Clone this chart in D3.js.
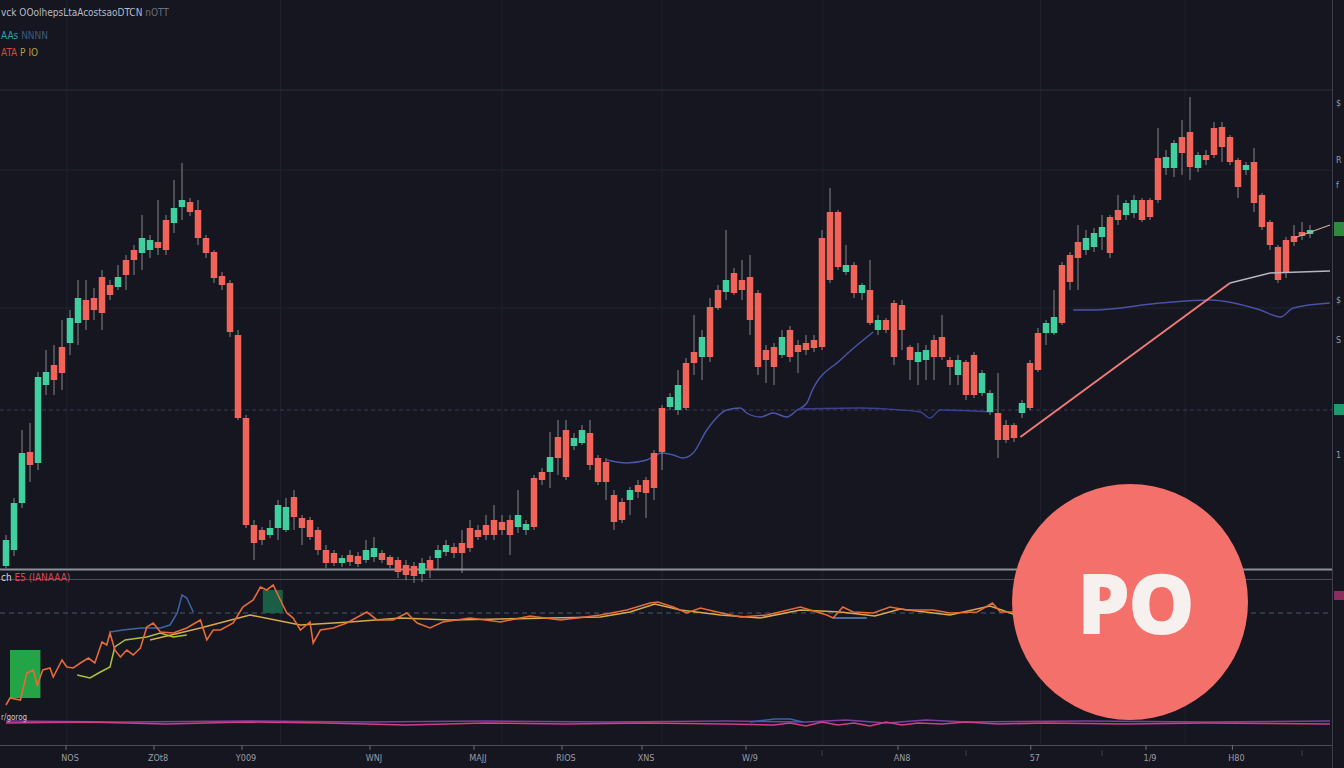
<!DOCTYPE html>
<html>
<head>
<meta charset="utf-8">
<script src="https://cdn.jsdelivr.net/npm/d3@7"></script>
<style>
  body { margin: 0; background: #15161f; overflow: hidden; }
  svg { display: block; }
</style>
</head>
<body>
<svg id="chart" width="1344" height="768"></svg>
<script>
// ---- price candles (one per bar) ----
var opens = [1009,1025,1072,1123,1112,1190,1210,1228,1232,1252,
  1275,1277,1298,1290,1288,1315,1325,1322,1325,1333,
  1355,1352,1368,1373,1365,1337,1323,1299,1292,1240,
  1157,1050,1045,1040,1047,1045,1078,1057,1055,1045,
  1025,1022,1012,1020,1019,1015,1018,1022,1018,1015,
  1010,1009,1001,1015,1017,1023,1028,1032,1047,1045,
  1050,1055,1053,1055,1048,1045,1097,1103,1103,1138,
  1145,1129,1132,1142,1117,1113,1080,1073,1075,1090,
  1095,1122,1167,1168,1165,1212,1223,1218,1268,1285,
  1283,1302,1295,1298,1282,1225,1228,1220,1245,1230,
  1232,1235,1337,1363,1363,1303,1310,1282,1285,1245,
  1255,1272,1270,1228,1213,1215,1235,1238,1215,1200,
  1213,1220,1182,1163,1162,1150,1150,1162,1212,1242,
  1242,1242,1310,1320,1333,1325,1328,1338,1358,1365,
  1360,1362,1375,1375,1417,1407,1407,1438,1443,1407,
  1420,1447,1448,1438,1415,1405,1413,1380,1353,1328,
  1335,1339,1343,1341];
var highs = [1040,1077,1145,1152,1203,1225,1230,1255,1265,1295,
  1295,1287,1305,1295,1310,1320,1330,1360,1340,1375,
  1360,1395,1412,1377,1375,1340,1325,1303,1295,1245,
  1160,1055,1048,1055,1075,1077,1085,1060,1058,1048,
  1030,1025,1020,1025,1023,1035,1038,1025,1020,1018,
  1015,1013,1017,1019,1030,1035,1032,1045,1055,1050,
  1060,1070,1060,1060,1085,1055,1100,1107,1143,1155,
  1155,1142,1150,1155,1120,1117,1085,1077,1088,1095,
  1098,1125,1170,1182,1205,1217,1260,1245,1277,1290,
  1345,1307,1315,1320,1285,1230,1232,1245,1249,1235,
  1240,1240,1345,1387,1365,1330,1313,1292,1315,1260,
  1257,1275,1275,1230,1232,1230,1240,1260,1218,1220,
  1215,1223,1205,1185,1202,1155,1152,1175,1215,1247,
  1255,1285,1313,1323,1350,1345,1347,1360,1360,1380,
  1375,1380,1377,1377,1447,1425,1435,1455,1478,1423,
  1425,1453,1453,1440,1417,1413,1427,1382,1355,1330,
  1338,1350,1353,1350];
var lows = [1007,1019,1067,1093,1105,1180,1180,1185,1220,1230,
  1245,1255,1245,1275,1285,1285,1300,1305,1317,1320,
  1320,1342,1355,1359,1330,1317,1292,1285,1238,1155,
  1047,1015,1030,1037,1035,1043,1045,1030,1035,1020,
  1007,1009,1008,1009,1008,1012,1013,1012,1007,997,
  995,992,993,997,1005,1019,1017,1002,1023,1035,
  1035,1035,1040,1020,1042,1040,1045,1090,1087,1100,
  1095,1125,1130,1105,1090,1075,1045,1052,1060,1077,
  1057,1075,1105,1165,1160,1165,1200,1195,1213,1265,
  1275,1280,1275,1240,1200,1192,1190,1217,1213,1202,
  1220,1223,1225,1292,1305,1300,1277,1275,1250,1240,
  1242,1210,1225,1195,1190,1195,1195,1215,1190,1190,
  1175,1177,1179,1160,1117,1132,1133,1157,1165,1203,
  1230,1240,1250,1285,1285,1320,1323,1325,1317,1350,
  1355,1357,1353,1355,1372,1400,1398,1400,1395,1403,
  1410,1417,1413,1410,1377,1400,1363,1345,1325,1292,
  1297,1329,1335,1337];
var closes = [1035,1072,1122,1110,1198,1203,1195,1202,1257,1277,
  1255,1265,1262,1280,1298,1300,1315,1337,1335,1327,
  1325,1367,1375,1363,1337,1322,1297,1290,1243,1157,
  1050,1032,1035,1047,1070,1068,1058,1047,1038,1025,
  1012,1012,1017,1013,1011,1025,1027,1015,1010,1003,
  1000,999,1012,1005,1025,1030,1022,1022,1027,1038,
  1040,1040,1045,1040,1060,1051,1048,1095,1118,1117,
  1098,1137,1145,1110,1093,1093,1053,1055,1085,1083,
  1082,1087,1123,1178,1190,1167,1212,1238,1218,1267,
  1295,1282,1285,1255,1208,1215,1208,1238,1218,1223,
  1225,1227,1228,1295,1308,1310,1282,1290,1252,1255,
  1245,1218,1245,1215,1223,1225,1218,1218,1208,1215,
  1180,1180,1202,1182,1135,1135,1137,1172,1167,1205,
  1252,1258,1252,1293,1317,1337,1342,1348,1322,1355,
  1372,1375,1355,1358,1375,1418,1432,1422,1408,1420,
  1415,1420,1428,1413,1388,1410,1372,1348,1330,1295,
  1303,1333,1339,1345];

// ---- overlay lines on the price pane: [bar, price] ----
var maBlue = [[75.1,1115],[77.6,1112],[80.1,1115],[82,1122],[83.4,1120],[84.6,1117],[85.9,1122],
  [87.6,1145],[90.1,1165],[91.8,1167],[92.6,1162],[94.3,1158],[95.9,1162],[97.6,1158],[98.9,1165],
  [100.1,1172],[100.8,1185],[104.3,1215],[108.4,1243]];
var maBlueLow = [[99,1166],[106.8,1167],[111.8,1165],[114.3,1163],[115.5,1157],[116.8,1165],[123.4,1163]];
var maBlueRight = [[133.4,1265],[135.9,1265],[144.3,1272],[150.5,1275],[156.8,1265],[159.3,1258],[160.9,1267],[165.5,1272]];
var trendRed = [[126.8,1138],[153,1292]];
var trendGrey = [[153,1292],[158,1302],[165.5,1304]];
var tailLine = [[161,1337],[165.5,1350]];

// ---- grid / axis ----
var gridPrices = [1485, 1405, 1267];
var dashedPrice = 1165;
var gridBars = [7.6, 34.3, 62, 82, 102.1, 129.3, 147.4];
var tickBars = [8, 19, 30, 46, 59, 70, 80, 93, 112, 128.6, 143, 153.8];
var tickLabels = ["NOS", "ZOt8", "Y009", "WNJ", "MAJJ", "RIOS", "XNS", "W/9", "AN8", "57", "1/9", "H80"];
var minorTickBars = [102, 120, 137, 162];
var axisPrices = [1472, 1415, 1390, 1275, 1235, 1120];
var axisLabels = ["$", "R", "f", "$", "S", "1"];

// ---- indicator pane: [bar, value] ----
var oscOrange = [[0,40],[0.5,47],[1.8,45],[2.6,72],[3.4,75],[3.9,60],[4.6,75],[5.5,77],[5.9,68],[7,85],
  [7.6,78],[8.4,77],[9.3,82],[10.3,87],[11.1,82],[12,103],[12.6,100],[13,112],[13.6,95],[14.3,88],
  [15.1,95],[15.9,90],[16.8,97],[17.6,118],[18.4,122],[19.3,113],[20.9,112],[22.6,117],[24.3,125],
  [25.1,105],[25.9,115],[26.8,115],[28.4,122],[29.6,138],[30.9,145],[31.8,158],[32.6,155],[33.4,160],
  [34.3,145],[35.1,132],[35.9,127],[36.8,115],[38,123],[38.4,102],[39.3,115],[40.9,117],[42.6,122],
  [45.1,133],[46.4,125],[48.4,125],[50.1,132],[51.4,122],[53,117],[54.6,123],[58,127],[61.8,123],
  [65.5,129],[69.3,125],[72.4,128],[74.3,130],[77.6,135],[80.5,142],[81.5,143],[83.4,138],[85.1,132],
  [86.8,137],[88.9,133],[91.8,128],[95.1,130],[99.3,138],[102.6,130],[103.4,127],[104.6,138],
  [105.9,133],[108.4,132],[110.5,138],[112.6,135],[115.9,135],[118,132],[121.4,133],[123.3,142],
  [124.3,133],[125.9,133]];
var oscYellow = [[18,105],[24.3,117],[30.5,130],[36.8,120],[43,123],[49.3,127],[55.5,125],[61.8,126],
  [68,127],[74.3,128],[78,133],[81.1,141],[84.3,135],[89.3,130],[94.3,127],[99.3,135],[104.3,133],
  [108.6,129],[111.8,136],[118,130],[123,139],[125.9,131]];
var oscGreen = [[8.9,70],[10.5,67],[11.8,73],[13,78],[13.6,98],[14.9,105],[17.6,108],[19.3,112],[20.9,108],[22.6,110]];
var oscBlue = [[13,113],[14.6,115],[16.9,117],[19.3,117],[20.5,120],[21.4,132],[22,150],[22.6,147],[23.4,133]];
var oscBlueFlat = [[103.4,127],[107.6,127]];
var oscLevel = 132;
var histPink = [[0,22],[10,23],[20,21],[30,23],[40,22],[50,20],[60,22],[70,21],[80,22],[90,21],[96,20],
  [98,22],[100,19],[102,23],[104,20],[106,22],[108,19],[110,23],[112,20],[114,22],[117,21],[120,23],
  [124,21],[130,22],[140,21],[150,22],[165.5,21]];
var histPurple = [[0,24],[15,23],[30,24],[45,23],[60,24],[75,23],[90,24],[100,23],[105,25],[110,22],
  [115,25],[120,23],[135,24],[150,23],[165.5,24]];
var histBlue = [[93,23],[96.1,26],[98,26],[99.6,23]];
var greenBox = [0.5, 4.3, 47, 95];
var greenBoxDark = [32.1, 34.6, 132, 155];

var svg = d3.select("#chart");
var W = 1344, H = 768, axisX = 1332;

var x = d3.scaleLinear().domain([0, 163]).range([6, 1310]);
var y = d3.scaleLinear().domain([1000, 1500]).range([575, 75]);
var yo = d3.scaleLinear().domain([0, 170]).range([745, 575]);

var upColor = "#40d0a0", downColor = "#f1645a";

// background
svg.append("rect").attr("width", W).attr("height", H).attr("fill", "#15161f");

// vertical grid
svg.append("g").selectAll("line").data(gridBars).enter().append("line")
  .attr("x1", function(d) { return x(d); }).attr("x2", function(d) { return x(d); })
  .attr("y1", 0).attr("y2", 745)
  .attr("stroke", "#1f2130").attr("stroke-width", 1);

// horizontal grid in price pane
svg.append("g").selectAll("line").data(gridPrices).enter().append("line")
  .attr("x1", 0).attr("x2", axisX)
  .attr("y1", function(d) { return y(d); }).attr("y2", function(d) { return y(d); })
  .attr("stroke", function(d, i) { return i == 0 ? "#2c2f3c" : "#22242f"; }).attr("stroke-width", 1);
svg.append("line")
  .attr("x1", 0).attr("x2", axisX).attr("y1", y(dashedPrice)).attr("y2", y(dashedPrice))
  .attr("stroke", "#3f3a58").attr("stroke-dasharray", "4,3");

// pane separators
svg.append("line").attr("x1", 0).attr("x2", axisX).attr("y1", 569.5).attr("y2", 569.5)
  .attr("stroke", "#8d8f99").attr("stroke-width", 2);
svg.append("line").attr("x1", 0).attr("x2", axisX).attr("y1", 579.5).attr("y2", 579.5)
  .attr("stroke", "#4a4c57").attr("stroke-width", 1);

// overlay lines
var line = d3.line().x(function(d) { return x(d[0]); }).y(function(d) { return y(d[1]); }).curve(d3.curveMonotoneX);
svg.append("path").datum(maBlue).attr("d", line).attr("fill", "none").attr("stroke", "#4c55a8").attr("stroke-width", 1.4);
svg.append("path").datum(maBlueLow).attr("d", line).attr("fill", "none").attr("stroke", "#3c4290").attr("stroke-width", 1.3);
svg.append("path").datum(maBlueRight).attr("d", line).attr("fill", "none").attr("stroke", "#4a52a8").attr("stroke-width", 1.4);

// candles
var bars = d3.range(opens.length);
var bw = 6.5;
var g = svg.append("g");
g.selectAll(".wick").data(bars).enter().append("line")
  .attr("x1", function(i) { return x(i); }).attr("x2", function(i) { return x(i); })
  .attr("y1", function(i) { return y(highs[i]); }).attr("y2", function(i) { return y(lows[i]); })
  .attr("stroke", "#aaa4a8").attr("stroke-width", 1).attr("opacity", 0.8);
g.selectAll(".body").data(bars).enter().append("rect")
  .attr("x", function(i) { return x(i) - bw / 2; })
  .attr("y", function(i) { return y(Math.max(opens[i], closes[i])); })
  .attr("width", bw)
  .attr("height", function(i) { return Math.max(2, Math.abs(y(opens[i]) - y(closes[i]))); })
  .attr("fill", function(i) { return closes[i] >= opens[i] ? upColor : downColor; });

// trend lines
var straight = d3.line().x(function(d) { return x(d[0]); }).y(function(d) { return y(d[1]); });
svg.append("path").datum(trendRed).attr("d", straight).attr("fill", "none").attr("stroke", "#f07a78").attr("stroke-width", 2);
svg.append("path").datum(trendGrey).attr("d", straight).attr("fill", "none").attr("stroke", "#b9b3c2").attr("stroke-width", 1.3);
svg.append("path").datum(tailLine).attr("d", straight).attr("fill", "none").attr("stroke", "#c9a89a").attr("stroke-width", 1.3);

// ---- indicator pane ----
svg.append("line").attr("x1", 0).attr("x2", axisX).attr("y1", yo(oscLevel)).attr("y2", yo(oscLevel))
  .attr("stroke", "#4b5a72").attr("stroke-dasharray", "5,4").attr("stroke-width", 1.2);

svg.append("rect")
  .attr("x", x(greenBox[0])).attr("y", yo(greenBox[3]))
  .attr("width", x(greenBox[1]) - x(greenBox[0])).attr("height", yo(greenBox[2]) - yo(greenBox[3]))
  .attr("fill", "#22a447");
svg.append("rect")
  .attr("x", x(greenBoxDark[0])).attr("y", yo(greenBoxDark[3]))
  .attr("width", x(greenBoxDark[1]) - x(greenBoxDark[0])).attr("height", yo(greenBoxDark[2]) - yo(greenBoxDark[3]))
  .attr("fill", "#1a5e45");

var oline = d3.line().x(function(d) { return x(d[0]); }).y(function(d) { return yo(d[1]); });
svg.append("path").datum(oscBlue).attr("d", oline).attr("fill", "none").attr("stroke", "#3d64a8").attr("stroke-width", 1.5);
svg.append("path").datum(oscBlueFlat).attr("d", oline).attr("fill", "none").attr("stroke", "#4a6a9a").attr("stroke-width", 2);
svg.append("path").datum(oscGreen).attr("d", oline).attr("fill", "none").attr("stroke", "#a9c23a").attr("stroke-width", 1.5);
svg.append("path").datum(oscYellow).attr("d", oline).attr("fill", "none").attr("stroke", "#d9a94c").attr("stroke-width", 1.6);
svg.append("path").datum(oscOrange).attr("d", oline).attr("fill", "none").attr("stroke", "#e66a3a").attr("stroke-width", 1.6);
svg.append("path").datum(histPurple).attr("d", oline).attr("fill", "none").attr("stroke", "#7d3fa3").attr("stroke-width", 1.5);
svg.append("path").datum(histPink).attr("d", oline).attr("fill", "none").attr("stroke", "#cf3f86").attr("stroke-width", 1.5);
svg.append("path").datum(histBlue).attr("d", oline).attr("fill", "none").attr("stroke", "#3a62b0").attr("stroke-width", 1.5);

// ---- x axis ----
svg.append("line").attr("x1", 0).attr("x2", axisX).attr("y1", 745.5).attr("y2", 745.5)
  .attr("stroke", "#4a4c57");
var xa = svg.append("g").attr("font-family", "DejaVu Sans Condensed, sans-serif").attr("font-size", 9).attr("fill", "#9a9da6");
xa.selectAll(".tk").data(tickBars).enter().append("line")
  .attr("x1", function(d) { return x(d) - 4; }).attr("x2", function(d) { return x(d) - 4; })
  .attr("y1", 745).attr("y2", 750).attr("stroke", "#6a6c76");
xa.selectAll(".mt").data(minorTickBars).enter().append("line")
  .attr("x1", function(d) { return x(d); }).attr("x2", function(d) { return x(d); })
  .attr("y1", 750).attr("y2", 756).attr("stroke", "#3c3e48");
xa.selectAll("text").data(tickBars).enter().append("text")
  .attr("x", function(d) { return x(d); }).attr("y", 761)
  .attr("text-anchor", "middle")
  .text(function(d, i) { return tickLabels[i]; });

// ---- right price axis ----
svg.append("line").attr("x1", axisX + 0.5).attr("x2", axisX + 0.5).attr("y1", 0).attr("y2", H)
  .attr("stroke", "#3b3e4a");
svg.append("g").selectAll("text").data(axisPrices).enter().append("text")
  .attr("x", axisX + 4).attr("y", function(d) { return y(d) + 3; })
  .attr("font-family", "DejaVu Sans, sans-serif").attr("font-size", 8).attr("fill", "#9a9ca6")
  .text(function(d, i) { return axisLabels[i]; });
svg.append("rect").attr("x", axisX + 2).attr("y", y(closes[closes.length - 1]) - 8)
  .attr("width", 12).attr("height", 14).attr("fill", "#2f8a3e");
svg.append("rect").attr("x", axisX + 2).attr("y", y(dashedPrice) - 6)
  .attr("width", 12).attr("height", 11).attr("fill", "#1f9a6e");
svg.append("rect").attr("x", axisX + 2).attr("y", yo(oscLevel) - 22)
  .attr("width", 12).attr("height", 9).attr("fill", "#8a2d5e");

// ---- legend text ----
var lg = svg.append("g").attr("font-family", "DejaVu Sans Condensed, sans-serif").attr("font-size", 10);
lg.append("text").attr("x", 1).attr("y", 16).attr("fill", "#b9bbc6").text("vck OOolhepsLtaAcostsaoDTCN")
  .append("tspan").attr("fill", "#6d707b").text(" nOTT");
lg.append("text").attr("x", 1).attr("y", 39).attr("fill", "#2e9fb0").text("AAs")
  .append("tspan").attr("fill", "#3e5a7a").text(" NNNN");
lg.append("text").attr("x", 1).attr("y", 56).attr("fill", "#d8483c").text("ATA")
  .append("tspan").attr("fill", "#b0a040").text(" P IO");
lg.append("text").attr("x", 1).attr("y", 581).attr("fill", "#d8d8de").text("ch")
  .append("tspan").attr("fill", "#d24b52").text(" E5 (IANAAA)");
lg.append("text").attr("x", 1).attr("y", 720).attr("fill", "#c8c8d0").attr("font-size", 8).text("r/gorog");

// ---- badge ----
svg.append("circle").attr("cx", 1130).attr("cy", 602).attr("r", 118).attr("fill", "#f4706a");
svg.append("text").attr("x", 1135).attr("y", 634)
  .attr("text-anchor", "middle")
  .attr("font-family", "Open Sans, sans-serif").attr("font-weight", 800).attr("font-size", 84)
  .attr("letter-spacing", -2)
  .attr("fill", "#f6f1ef").text("PO");
</script>
</body>
</html>
